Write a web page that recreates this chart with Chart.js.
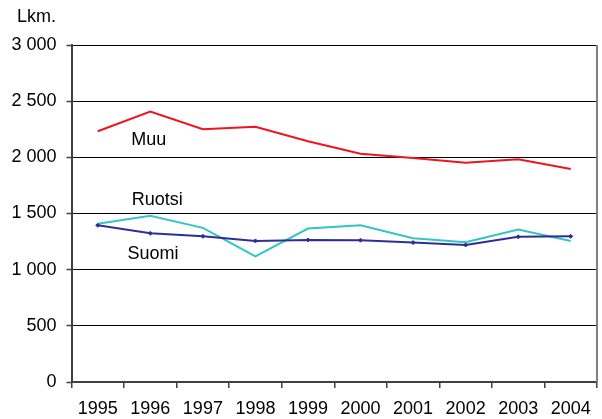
<!DOCTYPE html>
<html>
<head>
<meta charset="utf-8">
<script src="https://cdn.jsdelivr.net/npm/chart.js@4.4.1/dist/chart.umd.min.js"></script>
<style>
  html, body { margin: 0; padding: 0; background: #fff; }
  #wrap { width: 602px; height: 419px; position: relative; }
</style>
</head>
<body>
<div id="wrap"><canvas id="chart"></canvas></div>
<script>
// data
const years = ['1995', '1996', '1997', '1998', '1999', '2000', '2001', '2002', '2003', '2004'];
const muu = [2232, 2407, 2250, 2273, 2143, 2032, 1995, 1952, 1982, 1896];
const ruotsi = [1408, 1479, 1372, 1119, 1366, 1396, 1280, 1244, 1357, 1256];
const suomi = [1395, 1324, 1297, 1256, 1265, 1262, 1241, 1220, 1292, 1297];
const yTicks = [0, 500, 1000, 1500, 2000, 2500, 3000];

// text labels placed next to the lines (category index, value)
const seriesLabels = [
    { text: 'Muu', x: 0.97, y: 2114 },
    { text: 'Ruotsi', x: 1.13, y: 1573 },
    { text: 'Suomi', x: 1.05, y: 1092 }
];

const FONT = '"Liberation Sans", Arial, sans-serif';

function fmt(v) {
    return String(v).replace(/\B(?=(\d{3})+(?!\d))/g, ' ');
}

const extras = {
    id: 'extras',
    afterDatasetsDraw(chart) {
        const ctx = chart.ctx;
        const xs = chart.scales.x, ys = chart.scales.y;
        const area = chart.chartArea;
        ctx.save();
        // right frame line
        ctx.strokeStyle = '#808080';
        ctx.lineWidth = 2;
        ctx.beginPath();
        ctx.moveTo(area.right, area.top);
        ctx.lineTo(area.right, area.bottom);
        ctx.stroke();

        ctx.fillStyle = '#000';
        ctx.font = '18px ' + FONT;
        ctx.textAlign = 'center';
        ctx.textBaseline = 'alphabetic';
        seriesLabels.forEach(l => {
            ctx.fillText(l.text, xs.getPixelForValue(l.x), ys.getPixelForValue(l.y));
        });
        // unit title
        ctx.textAlign = 'left';
        ctx.fillText('Lkm.', 17, 22);
        ctx.restore();
    }
};

new Chart(document.getElementById('chart'), {
    type: 'line',
    data: {
        labels: years,
        datasets: [
            {
                label: 'Muu',
                data: muu,
                borderColor: '#f0141e',
                borderWidth: 2,
                pointRadius: 0,
                tension: 0,
                order: 1
            },
            {
                label: 'Suomi',
                data: suomi,
                borderColor: '#2e2e96',
                backgroundColor: '#2e2e96',
                borderWidth: 2,
                pointStyle: 'rectRot',
                pointRadius: 2,
                pointBorderWidth: 1,
                tension: 0,
                order: 2
            },
            {
                label: 'Ruotsi',
                data: ruotsi,
                borderColor: '#33c5c5',
                borderWidth: 2,
                pointRadius: 0,
                tension: 0,
                order: 3
            }
        ]
    },
    options: {
        responsive: true,
        maintainAspectRatio: false,
        animation: false,
        layout: { padding: { top: 45, right: 2, left: 0, bottom: 0 } },
        plugins: {
            legend: { display: false },
            tooltip: { enabled: false }
        },
        scales: {
            x: {
                offset: true,
                grid: {
                    offset: true,
                    drawOnChartArea: false,
                    tickLength: 6,
                    color: '#404040',
                    lineWidth: 1.5
                },
                border: { color: '#404040', width: 2 },
                ticks: {
                    color: '#000',
                    font: { family: FONT, size: 18 },
                    padding: 10,
                    maxRotation: 0,
                    autoSkip: false
                },
                afterFit(scale) {
                    scale.height = 37;
                    scale.paddingLeft = 0;
                    scale.paddingRight = 0;
                }
            },
            y: {
                min: 0,
                max: 3000,
                afterBuildTicks(scale) {
                    scale.ticks = yTicks.map(v => ({ value: v }));
                },
                grid: {
                    color: '#000',
                    lineWidth: 1,
                    borderDash: [3, 2],
                    tickLength: 5,
                    tickColor: '#404040',
                    tickWidth: 1.5
                },
                border: { color: '#404040', width: 2, dash: [] },
                ticks: {
                    color: '#000',
                    font: { family: FONT, size: 18 },
                    padding: 10,
                    callback: v => fmt(v)
                },
                afterFit(scale) { scale.width = 71.5; }
            }
        }
    },
    plugins: [extras]
});
</script>
</body>
</html>
